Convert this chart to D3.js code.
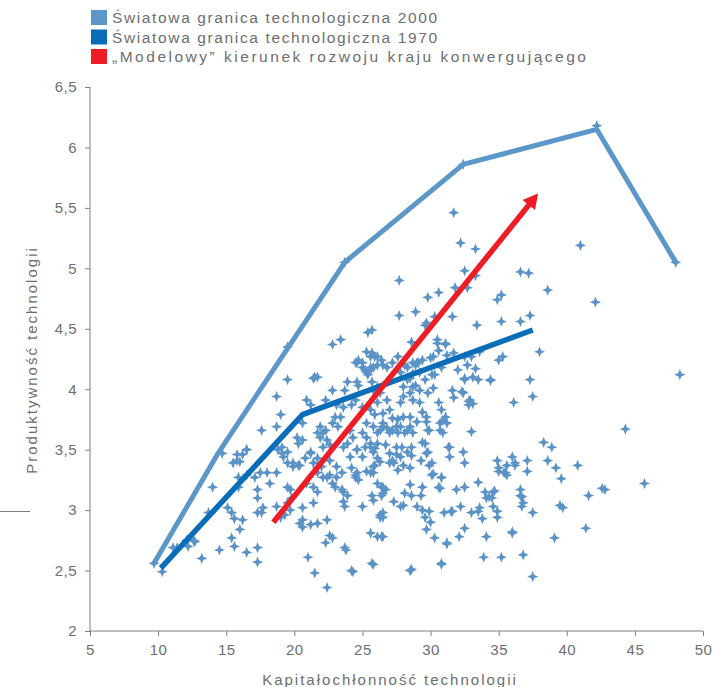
<!DOCTYPE html>
<html><head><meta charset="utf-8">
<script src="https://cdn.jsdelivr.net/npm/d3@7"></script>
<style>
body{margin:0;background:#fff;}
svg text{font-family:"Liberation Sans",Arial,sans-serif;fill:#6d6e71;}
</style></head>
<body><svg id="c" width="716" height="687"></svg>
<script>
const xTicks = [5,10,15,20,25,30,35,40,45,50];
const yTicks = [2,2.5,3,3.5,4,4.5,5,5.5,6,6.5];
const legendLabels = ["Światowa granica technologiczna 2000","Światowa granica technologiczna 1970","„Modelowy” kierunek rozwoju kraju konwergującego"];
const legendWidths = [325,325,474];
const xTitle = "Kapitałochłonność technologii";
const yTitle = "Produktywność technologii";
const frontier2000 = [[9.7,2.56],[14.4,3.47],[23.7,5.05],[32.4,5.86],[42.2,6.15],[48.0,5.05]];
const frontier1970 = [[10.2,2.52],[20.6,3.79],[37.5,4.49]];
const modelPath = [[18.46,2.90],[37.9,5.62]];
const countries = [
[9.7,2.56],[14.7,3.47],[19.5,4.35],[23.7,5.05],[32.4,5.86],[42.2,6.18],[48.0,5.05],[10.3,2.49],
[31.7,5.46],[32.2,5.21],[33.3,5.16],[32.5,4.98],[33.3,4.94],[27.7,4.90],[29.8,4.76],[30.6,4.80],[31.8,4.84],[32.7,4.84],[34.9,4.74],[35.2,4.78],[36.6,4.97],[37.2,4.96],[38.6,4.82],[27.7,4.61],[28.9,4.64],[31.6,4.60],[33.4,4.53],[35.2,4.56],[36.6,4.56],[37.3,4.61],[38.0,4.31],[25.4,4.47],[22.8,4.37],[23.4,4.41],[21.5,4.10],[29.7,4.55],[30.5,4.38],[31.1,4.37],[35.0,4.24],[35.3,4.27],[37.3,4.08],[31.7,4.30],[32.5,4.27],[33.6,4.31],[34.4,4.07],[32.5,4.08],[33.1,4.10],[30.2,4.27],[31.2,4.28],[41.0,5.19],[42.1,4.72],[37.5,3.94],[48.3,4.12],[44.3,3.67],[38.3,3.56],[38.9,3.52],[37.1,3.41],[38.6,3.41],[39.2,3.35],[39.6,3.26],[37.1,3.32],[40.8,3.37],[45.7,3.22],[42.6,3.18],[42.8,3.17],[41.6,3.12],
[39.5,3.04],[39.7,3.02],[41.4,2.85],[39.1,2.77],[37.5,2.45],[36.8,2.63],[35.2,2.61],[33.9,2.61],[36.0,2.82],[37.5,2.98],[36.7,3.03],[36.6,3.12],[36.0,3.44],[36.2,3.39],[34.9,3.41],[35.0,3.32],[35.5,3.31],[35.6,3.29],[34.7,3.16],[34.0,3.15],[34.1,3.10],[34.6,3.03],[34.9,2.94],[33.5,3.23],[33.6,3.02],[33.8,2.93],[32.5,2.85],[34.1,2.78],[32.1,2.78],[32.5,3.19],[31.9,3.17],[32.2,3.03],[33.0,2.98],[31.2,2.72],[31.6,2.99],[31.0,2.98],[30.3,2.77],[29.7,2.84],[30.8,2.55],[28.6,2.51],[25.8,2.55],[29.9,2.99],[30.0,2.90],[29.4,3.00],[29.0,3.03],[28.0,3.04],[27.3,3.07],[29.4,3.19],[29.3,3.12],[30.6,3.19],[30.8,3.27],[30.2,3.30],[28.5,3.21],[28.1,3.14],[28.6,3.12],[30.1,3.39],[29.6,3.55],[29.7,3.47],[31.4,3.52],[31.4,3.44],[32.4,3.48],[32.5,3.39],[27.9,3.52],[27.5,3.46],[27.6,3.33],[27.3,3.39],[27.0,3.39],[28.3,3.48],[28.6,3.52],[26.1,3.22],[26.4,3.19],[26.7,3.17],[26.5,3.14],[26.3,2.96],[26.5,2.94],[26.1,2.78],[26.5,2.78],[25.6,3.52],[25.8,3.48],[26.1,3.55],[26.7,3.54],[25.8,3.31],[25.9,3.37],[25.7,3.12],[29.6,2.94],[36.6,3.17],[36.7,3.11],[36.8,3.06],[36.0,2.81],
[14.0,3.19],[13.7,2.98],[11.4,2.69],[12.2,2.70],[12.7,2.74],[13.2,2.60],[14.5,2.67],[15.4,2.77],[15.6,2.70],[16.5,2.65],[17.3,2.69],[17.3,2.57],[15.1,3.02],[15.4,2.98],[15.6,2.93],[16.2,2.92],[15.9,3.19],[15.9,3.27],[16.5,3.29],[16.2,3.46],[15.8,3.41],[16.5,3.50],[17.1,3.27],[17.3,3.17],[17.3,3.10],[18.0,3.31],[18.7,3.31],[18.2,3.22],[17.7,3.02],[17.3,2.98],[17.6,2.98],[18.7,3.03],[19.0,2.94],[19.5,3.06],[19.8,3.10],[19.7,3.00],[19.3,2.96],[18.8,3.50],[19.2,3.44],[19.5,3.39],[19.9,3.36],[20.3,3.37],[19.5,3.19],[19.7,3.17],[20.3,3.55],[20.6,3.58],[20.9,3.22],[21.4,3.19],[21.7,3.15],[20.6,3.02],[20.6,2.92],[21.4,3.06],[20.4,2.89],[20.6,2.86],[21.2,2.88],[21.7,2.89],[22.4,2.92],[22.6,2.79],[22.8,2.77],[22.3,2.73],[21.0,2.61],[21.5,2.48],[22.4,2.36],[23.7,2.69],[23.8,2.67],[24.2,2.50],[25.0,3.03],[23.6,3.07],[23.7,3.03],[23.9,3.12],[23.5,3.17],[22.8,3.22],[22.4,3.27],[22.0,3.36],[23.1,3.36],[21.7,3.43],[22.6,3.41],[23.6,3.52],[23.9,3.55],[24.6,3.50],[25.0,3.44],[24.5,3.29],[24.2,3.35],[21.2,3.48],[21.4,3.39],[21.7,3.35],[22.1,3.52],[22.6,3.54],[25.3,3.32],[25.6,3.31],[11.1,2.69],[12.1,2.75],[12.6,2.75],[16.0,2.84],
[25.3,4.31],[25.6,4.27],[24.6,4.22],[25.0,4.22],[25.2,4.16],[21.4,4.09],[21.7,4.10],[19.5,4.08],[18.7,3.94],[19.0,3.79],[18.7,3.69],[17.6,3.66],[20.9,3.91],[21.2,3.87],[22.3,3.91],[22.8,3.99],[23.9,4.06],[23.7,3.99],[24.7,4.03],[24.5,3.91],[24.2,3.87],[23.1,3.87],[23.4,3.77],[23.0,3.77],[21.9,3.69],[21.7,3.64],[22.3,3.66],[25.0,3.85],[25.3,3.72],[25.0,3.64],[24.1,3.66],[24.3,3.60],[20.2,3.60],[20.6,3.72],[16.5,3.50],[15.8,3.46],[16.0,3.40],[15.5,3.39],[17.5,3.31],[19.1,3.52],[19.5,3.48],[19.1,3.47],[19.9,3.39],[20.4,3.37],[20.8,3.43],[21.2,3.47],[21.9,3.60],[22.1,3.64],[22.4,3.58],[22.8,3.72],[23.2,3.69],[23.6,3.85],[21.7,3.31],[22.1,3.27],[22.6,3.29],[23.1,3.27],[23.5,3.31],[23.0,3.19],[23.6,3.15],
[29.6,4.53],[30.3,4.60],[28.6,4.39],[30.5,4.41],[31.1,4.38],[30.6,4.32],[33.0,4.27],[36.1,3.89],[31.6,3.99],[31.7,3.93],[32.3,3.98],[32.9,3.91],[32.8,3.87],[33.5,4.08],[34.4,4.08],[32.5,4.09],[33.3,4.17],[32.0,4.16],[32.7,4.20],[30.2,4.01],[30.1,4.12],[30.3,4.12],[30.8,4.18],[30.0,4.26],[29.4,4.24],[29.1,4.22],[28.9,4.20],[28.7,4.13],[29.2,4.14],[30.6,3.89],[30.8,3.83],[31.1,3.77],[31.2,3.72],[30.7,3.72],[33.0,3.65],[29.7,3.77],[29.8,3.66],[29.2,3.89],[29.2,3.99],[29.8,3.97],[28.5,3.97],[28.7,3.91],[28.0,3.94],[27.8,3.89],[28.0,3.77],[28.5,3.77],[29.0,3.73],[28.5,3.69],[28.7,3.64],[27.5,3.69],[27.6,3.64],[27.0,3.64],[26.5,3.69],[26.3,3.66],[25.8,3.69],[26.1,3.64],[25.9,3.79],[26.5,3.80],[27.0,3.83],[27.6,3.75],[27.2,3.76],[25.6,3.83],[26.1,3.89],[26.8,3.91],[25.8,3.99],[26.3,3.97],[28.3,4.08],[28.7,4.02],[28.0,4.02],[25.7,4.30],[26.1,4.27],[26.4,4.24],[26.1,4.20],[25.8,4.18],[25.6,4.16],[26.8,4.18],[27.2,4.22],[28.7,4.22],[28.3,4.18],[25.7,4.49],
[32.4,3.97],[32.8,3.90],[33.1,3.88],[30.9,3.74],[30.7,3.66],[30.9,3.64],[29.4,3.81],[29.7,3.73],[29.9,3.66],[27.2,3.66],[27.8,3.69],[28.1,3.64],[28.3,3.66],[26.5,3.72],[26.8,3.68],[25.3,3.60],[25.6,3.55],[25.2,3.52],[24.6,3.50],[24.1,3.44],[25.9,3.51],[26.1,3.43],[25.8,3.36],[26.3,3.40],[27.0,3.47],[27.2,3.41],[27.5,3.52],[27.8,3.44],[28.0,3.37],[28.6,3.45],[28.5,3.35],[29.4,3.56],[29.8,3.48],[29.3,3.41],[29.9,3.37],[31.3,3.52],[30.1,3.29],[30.8,3.27],[30.7,3.18],[26.5,3.19],[26.4,3.12],[26.5,2.98],[26.3,2.94],[25.8,3.08],[24.6,3.31],[24.5,3.27],[24.7,3.25],[27.8,3.03],[25.6,2.81],[26.4,2.78],[25.7,2.56],[24.3,2.49],[28.5,2.50],[30.8,2.56],[31.2,2.73],[35.0,3.35],[35.4,3.31],[35.6,3.37],[36.2,3.37],[34.3,3.11],[34.6,3.15],[34.5,3.10],[34.9,2.99],[33.5,2.99],[31.5,2.99],
[24.5,4.22],[24.7,4.24],[25.0,4.18],[25.3,4.14],[25.6,4.18],[25.9,4.27],[26.5,4.20],[25.4,4.12],[24.6,4.06],[25.7,4.06],[26.1,4.02],[26.8,4.06],[27.6,4.27],[28.1,4.20],[27.8,4.14],[28.5,4.09],[29.0,4.22],[28.9,4.03],[29.6,4.08]
];

const svg = d3.select("#c");
const x = d3.scaleLinear().domain([5,50]).range([90,703]);
const y = d3.scaleLinear().domain([2,6.5]).range([631,87]);
const grey = "#808080";

// stray rule at left
svg.append("line").attr("x1",0).attr("x2",30).attr("y1",511.5).attr("y2",511.5).attr("stroke",grey).attr("stroke-width",1);

// axes
const fmt = d => String(d).replace(".", ",");
const xa = svg.append("g").attr("transform","translate(0,631)")
  .call(d3.axisBottom(x).tickValues(xTicks).tickFormat(fmt).tickSize(5).tickPadding(8));
const ya = svg.append("g").attr("transform","translate(90,0)")
  .call(d3.axisLeft(y).tickValues(yTicks).tickFormat(fmt).tickSize(5).tickPadding(8));
[xa,ya].forEach(g=>{
  g.selectAll("path,line").attr("stroke",grey);
  g.select(".domain").attr("d", g===xa ? "M90,0H703" : "M0,87V631");
  g.selectAll("text").attr("font-size",15).attr("fill","#6d6e71").style("font-family","Liberation Sans, Arial, sans-serif").attr("letter-spacing","0.5px");
});

svg.append("text").attr("x",390).attr("y",685).attr("text-anchor","middle").attr("font-size",15).attr("letter-spacing","2px").text(xTitle);
svg.append("text").attr("transform","translate(37,360) rotate(-90)").attr("text-anchor","middle").attr("font-size",15).attr("letter-spacing","2px").text(yTitle);

// markers
const star = "M0,-5.6L1.6,-1.6L5.6,0L1.6,1.6L0,5.6L-1.6,1.6L-5.6,0L-1.6,-1.6Z";
svg.append("g").selectAll("path").data(countries).join("path")
  .attr("d",star).attr("transform",d=>`translate(${x(d[0])},${y(d[1])})`)
  .attr("fill","#5b93c7");

const line = d3.line().x(d=>x(d[0])).y(d=>y(d[1]));
svg.append("path").attr("d",line(frontier2000)).attr("fill","none").attr("stroke","#5b97c9").attr("stroke-width",5).attr("stroke-linejoin","round");
svg.append("path").attr("d",line(frontier1970)).attr("fill","none").attr("stroke","#0a6db8").attr("stroke-width",5.5).attr("stroke-linejoin","round");

// arrow
const p0=[x(modelPath[0][0]),y(modelPath[0][1])], p1=[x(modelPath[1][0]),y(modelPath[1][1])];
const dx=p1[0]-p0[0], dy=p1[1]-p0[1], L=Math.hypot(dx,dy), ux=dx/L, uy=dy/L;
const hl=15, hw=8;
const base=[p1[0]-ux*hl,p1[1]-uy*hl];
svg.append("line").attr("x1",p0[0]).attr("y1",p0[1]).attr("x2",base[0]+ux*2).attr("y2",base[1]+uy*2).attr("stroke","#ee1d25").attr("stroke-width",5.5);
svg.append("path").attr("d",`M${p1[0]},${p1[1]}L${base[0]-uy*hw},${base[1]+ux*hw}L${base[0]+uy*hw},${base[1]-ux*hw}Z`).attr("fill","#ee1d25");

// legend
const legColors=["#5b97c9","#0a6db8","#ee1d25"];
const lg=svg.append("g");
legendLabels.forEach((t,i)=>{
  lg.append("rect").attr("x",91).attr("y",10+i*19.5).attr("width",16).attr("height",15).attr("fill",legColors[i]);
  lg.append("text").attr("x",112).attr("y",23+i*19.5).attr("font-size",15.5).attr("fill","#58595b")
    .attr("textLength",legendWidths[i]).attr("lengthAdjust","spacing").text(t);
});
</script></body></html>
